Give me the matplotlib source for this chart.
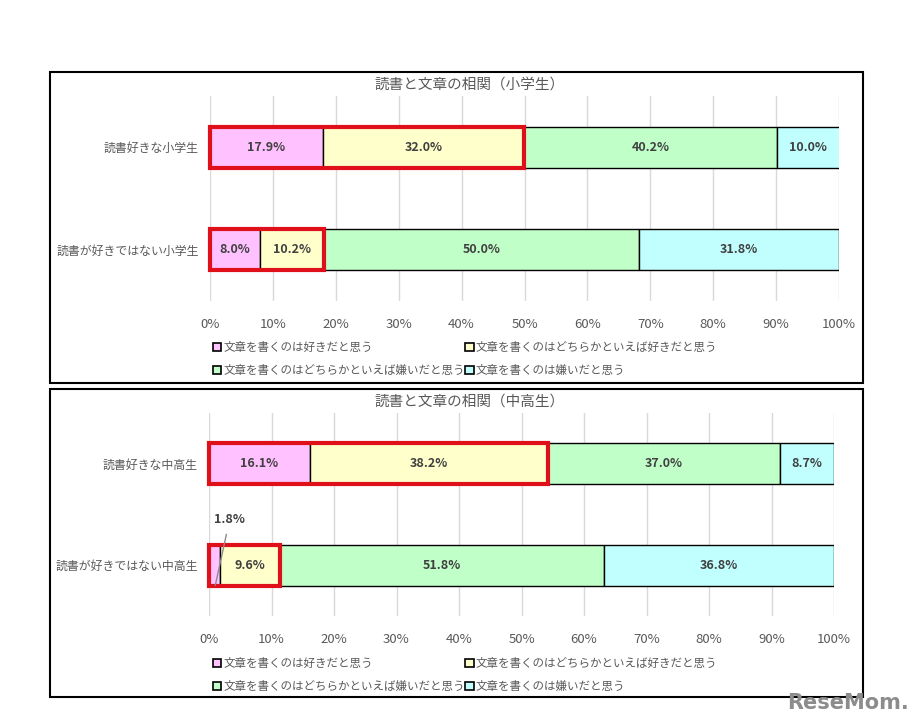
import matplotlib.pyplot as plt
from matplotlib.patches import Rectangle, Patch

plt.rcParams['font.family'] = ['Noto Sans CJK JP', 'DejaVu Sans']

# data
series_names = ['文章を書くのは好きだと思う', '文章を書くのはどちらかといえば好きだと思う',
                '文章を書くのはどちらかといえば嫌いだと思う', '文章を書くのは嫌いだと思う']
colors = ['#FFC1FF', '#FFFFCC', '#C1FFC8', '#C1FFFF']

title_el = '読書と文章の相関（小学生）'
cats_el = ['読書好きな小学生', '読書が好きではない小学生']
vals_el = [[17.9, 32.0, 40.2, 10.0],
           [8.0, 10.2, 50.0, 31.8]]
box_el = [49.9, 18.2]   # red highlight extent

title_jh = '読書と文章の相関（中高生）'
cats_jh = ['読書好きな中高生', '読書が好きではない中高生']
vals_jh = [[16.1, 38.2, 37.0, 8.7],
           [1.8, 9.6, 51.8, 36.8]]
box_jh = [54.3, 11.4]

ticks = list(range(0, 101, 10))
tick_labels = [str(t) + '%' for t in ticks]

gray = '#595959'
W, H = 913, 723
fig = plt.figure(figsize=(W / 100, H / 100), dpi=100)


def px(x0, y0, x1, y1):
    return [x0 / W, 1 - y1 / H, (x1 - x0) / W, (y1 - y0) / H]


def panel(ax_rect, cats, vals, box, title, title_y, legend_y, skip_small=False):
    ax = fig.add_axes(px(*ax_rect))
    bh = 0.40
    for i, row in enumerate(vals):
        left = 0
        for j, v in enumerate(row):
            ax.barh(i, v, left=left, height=bh, color=colors[j], edgecolor='black', linewidth=1.0, zorder=2)
            if not (skip_small and i == 1 and j == 0):
                ax.text(left + v / 2, i, '%.1f%%' % v, ha='center', va='center',
                        fontsize=9, fontweight='bold', color='#404040', zorder=4)
            left += v
        ax.add_patch(Rectangle((0, i - bh / 2), box[i], bh, fill=False, edgecolor='#E0101A',
                               linewidth=3, zorder=5, clip_on=False))
    ax.set_xlim(0, 100)
    ax.set_ylim(1.5, -0.5)
    ax.set_xticks(ticks)
    ax.set_xticklabels(tick_labels, color=gray, fontsize=9.5)
    ax.set_yticks([0, 1])
    ax.set_yticklabels(cats, color=gray, fontsize=8.6)
    ax.tick_params(length=0, pad=12)
    ax.tick_params(axis='y', pad=8)
    ax.grid(axis='x', color='#D9D9D9', linewidth=1, zorder=0)
    for s in ax.spines.values():
        s.set_visible(False)
    fig.text(470 / W, 1 - title_y / H, title, ha='center', va='center', fontsize=10.5, color=gray)
    handles = [Patch(facecolor=c, edgecolor='black', linewidth=1.2) for c in colors]
    order = [0, 2, 1, 3]
    ax.legend([handles[k] for k in order], [series_names[k] for k in order], ncol=2,
              loc='upper left', bbox_to_anchor=(213 / W, 1 - legend_y / H),
              bbox_transform=fig.transFigure, frameon=False, fontsize=8.3,
              handlelength=0.7, handleheight=0.7, handletextpad=0.2,
              columnspacing=0.05, labelspacing=0.85, borderpad=0, borderaxespad=0,
              labelcolor=gray)
    return ax


panel((210, 96, 839, 301), cats_el, vals_el, box_el, title_el, 85, 341)
ax2 = panel((209, 413, 834, 616), cats_jh, vals_jh, box_jh, title_jh, 402, 657, skip_small=True)

# callout for the small 1.8% segment
ax2.annotate('1.8%', xy=(1.0, 1.2), xytext=(3.3, 0.55), ha='center', va='center',
             fontsize=9, fontweight='bold', color='#404040',
             arrowprops=dict(arrowstyle='-', color='#8C8C8C', lw=1.0, shrinkA=4, shrinkB=0),
             zorder=6)

# panel frames
for y0, y1 in [(72, 383), (389, 697)]:
    fig.patches.append(Rectangle((50 / W, 1 - y1 / H), 813 / W, (y1 - y0) / H, fill=False,
                                 edgecolor='black', linewidth=1.5, transform=fig.transFigure))

fig.text(848 / W, 1 - 703 / H, 'ReseMom.', ha='center', va='center', fontsize=15,
         fontweight='bold', color='#8C8C8C', family='DejaVu Sans')

fig.savefig('out.png', dpi=100, facecolor='white')
